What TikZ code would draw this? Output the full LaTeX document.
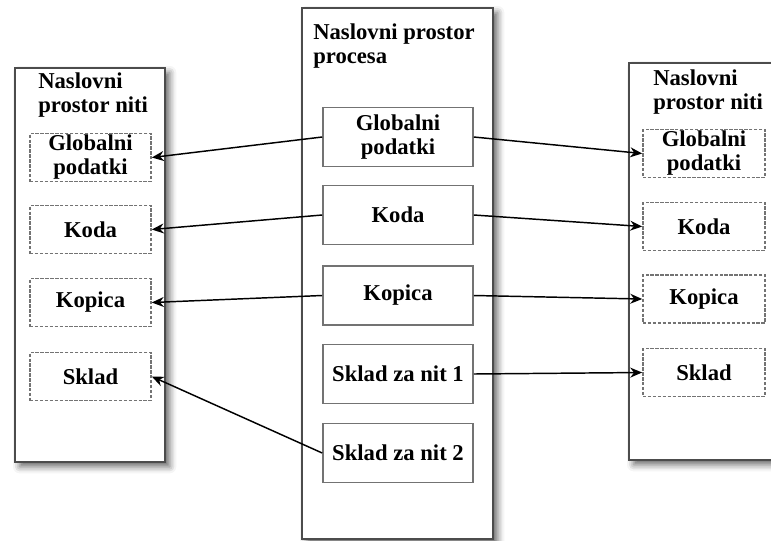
\documentclass[tikz,border=0pt]{standalone}
\usepackage{fontspec}
\setmainfont{Liberation Serif}
\usepackage{tikz}
\usetikzlibrary{shapes,arrows.meta,shadows.blur}

\tikzset{
  space/.style={shape=rectangle, draw=black!70, line width=1.6pt, fill=white, blur shadow={shadow xshift=3.5pt, shadow yshift=-3.5pt, shadow blur radius=5pt, shadow opacity=60}},
  part/.style={shape=rectangle, draw=black!55, line width=1.2pt, fill=white, align=center, inner sep=0pt, minimum width=112.5pt, minimum height=44.25pt},
  copy/.style={shape=rectangle, draw=black!55, dash pattern=on 2.5pt off 1.2pt, line width=1.2pt, fill=white, align=center, inner sep=0pt, minimum height=36pt},
  label/.style={anchor=north west, inner sep=0pt, align=left},
  link/.style={-{Stealth[length=9pt,width=7.5pt]}, line width=1.1pt, black}
}

\begin{document}
\begin{tikzpicture}[x=0.75pt, y=-0.75pt, every node/.style={font=\fontsize{17}{18}\selectfont\bfseries}]

\useasboundingbox (0,0) rectangle (771,540);

\node[name=left, space, minimum width=112.5pt, minimum height=295.5pt] at (90,265) {};
\node[name=mid, space, minimum width=143.25pt, minimum height=398.25pt] at (397.5,273.5) {};
\node[name=right, space, minimum width=120.75pt, minimum height=297.75pt] at (709.5,261.5) {};

\node[name=lefttitle, label] at (38,73) {Naslovni\\prostor niti};
\node[name=midtitle, label] at (313,24) {Naslovni prostor\\procesa};
\node[name=righttitle, label] at (653,70) {Naslovni\\prostor niti};

\node[name=lglob, copy, minimum width=90.75pt] at (90.5,157.5) {Globalni\\podatki};
\node[name=lkoda, copy, minimum width=90.75pt] at (90.5,229.5) {Koda};
\node[name=lkop, copy, minimum width=90.75pt] at (90.5,302.5) {Kopica};
\node[name=lskl, copy, minimum width=90.75pt] at (90.5,376.5) {Sklad};

\node[name=cglob, part] at (398,137) {Globalni\\podatki};
\node[name=ckoda, part] at (398,215) {Koda};
\node[name=ckop, part] at (398,295.5) {Kopica};
\node[name=cskl1, part] at (398,374) {Sklad za nit 1};
\node[name=cskl2, part] at (398,453) {Sklad za nit 2};

\node[name=rglob, copy, minimum width=91.5pt] at (704,153.5) {Globalni\\podatki};
\node[name=rkoda, copy, minimum width=91.5pt] at (704,226.5) {Koda};
\node[name=rkop, copy, minimum width=91.5pt] at (704,299) {Kopica};
\node[name=rskl, copy, minimum width=91.5pt] at (704,372.5) {Sklad};

\draw[link] (cglob.west) -- (lglob.east);
\draw[link] (ckoda.west) -- (lkoda.east);
\draw[link] (ckop.west) -- (lkop.east);
\draw[link] (cskl2.west) -- (lskl.east);

\draw[link] (cglob.east) -- (rglob.west);
\draw[link] (ckoda.east) -- (rkoda.west);
\draw[link] (ckop.east) -- (rkop.west);
\draw[link] (cskl1.east) -- (rskl.west);

\end{tikzpicture}
\end{document}
